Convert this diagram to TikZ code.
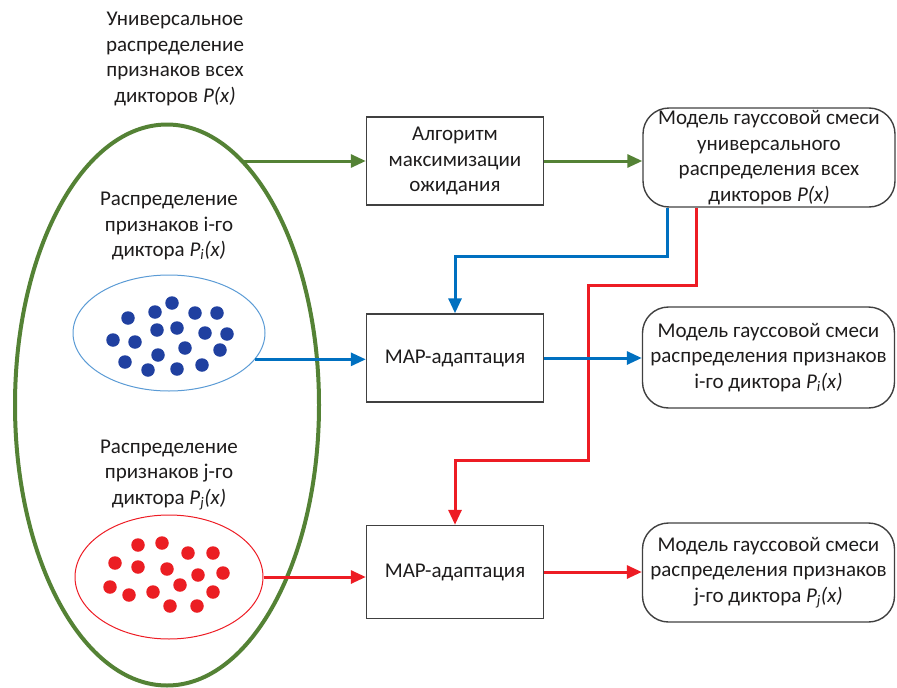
\documentclass[tikz,border=0pt]{standalone}
\usepackage{fontspec}
\setmainfont{Carlito}
\usetikzlibrary{shapes.geometric,arrows.meta,calc}
\definecolor{txt}{RGB}{30,28,28}
\definecolor{frame}{RGB}{64,64,64}
\definecolor{ggreen}{RGB}{84,130,53}
\definecolor{lblue}{RGB}{0,112,192}
\definecolor{lred}{RGB}{237,28,36}
\definecolor{dotblue}{RGB}{32,64,160}
\definecolor{dotred}{RGB}{235,30,35}
\definecolor{rimblue}{RGB}{91,155,213}
\tikzset{
  label text/.style={align=center, text=txt, inner sep=0pt},
  procbox/.style={draw=frame, line width=1.4pt, minimum width=177pt, minimum height=88pt,
    align=center, text=txt, inner sep=2pt},
  modelbox/.style={draw=frame, line width=1.4pt, rounded corners=26pt, minimum width=252pt,
    minimum height=99pt, align=center, text=txt, inner sep=1pt},
  flow/.style={line width=3pt, -{Triangle[length=15pt,width=13pt]}},
  dot/.style={circle, fill=#1, inner sep=0pt, minimum size=13.5pt},
}
\newcommand{\PofI}{\textit{P\textsubscript{i}(x)}}
\newcommand{\PofJ}{\textit{P\textsubscript{j}(x)}}
\begin{document}
\begin{tikzpicture}[x=1pt, y=-1pt, font=\fontsize{21}{25.5}\selectfont]
\useasboundingbox (0,0) rectangle (897,688);

% outer population of all speakers
\node[ellipse, draw=ggreen, line width=4pt, minimum width=304pt, minimum height=561pt, inner sep=0pt] (all) at (167,405) {};

% labels
\node[label text] (allLbl) at (175,59) {Универсальное\\распределение\\признаков всех\\дикторов \textit{P(x)}};
\node[label text] (iLbl) at (169,226) {Распределение\\признаков i-го\\диктора \PofI};
\node[label text] (jLbl) at (169,475) {Распределение\\признаков j-го\\диктора \PofJ};

% speaker i feature cloud
\node[ellipse, draw=rimblue, line width=1pt, minimum width=192pt, minimum height=116pt, inner sep=0pt] (bi) at (169,333) {};
\foreach \p [count=\k] in {(128,318),(155,312),(172,303),(195,313),(217,313),
  (113,340),(135,342),(157,330),(177,328),(205,333),(227,334),
  (125,362),(158,355),(185,348),(220,350),
  (148,370),(177,369),(202,365)}
  \node[dot=dotblue] (bd\k) at \p {};

% speaker j feature cloud
\node[ellipse, draw=lred, line width=1pt, minimum width=188pt, minimum height=124pt, inner sep=0pt] (rj) at (169,577) {};
\foreach \p [count=\k] in {(138,545),(162,543),(188,553),(213,553),
  (115,563),(138,567),(167,569),(198,575),(223,573),
  (110,587),(129,595),(153,592),(180,585),(213,592),
  (170,606),(197,606)}
  \node[dot=dotred] (rd\k) at \p {};

% processing blocks
\node[procbox] (em) at (455,161) {Алгоритм\\максимизации\\ожидания};
\node[procbox] (map1) at (455,358) {MAP-адаптация};
\node[procbox, minimum height=93pt] (map2) at (455,572) {MAP-адаптация};

% resulting models
\node[modelbox] (ubm) at (769,157.5) {Модель гауссовой смеси\\универсального\\распределения всех\\дикторов \textit{P(x)}};
\node[modelbox, minimum height=101pt] (mi) at (768.5,357.5) {Модель гауссовой смеси\\распределения признаков\\i-го диктора \PofI};
\node[modelbox] (mj) at (768.5,572.5) {Модель гауссовой смеси\\распределения признаков\\j-го диктора \PofJ};

% training of the universal model
\draw[flow, ggreen] (all.73 |- em.west) -- (em.west);
\draw[flow, ggreen] (em.east) -- (em.east -| ubm.west);

% adaptation for speaker j
\coordinate (rbend) at (588,285);
\draw[flow, lred] ([xshift=54pt]ubm.south west) |- (rbend) |- ($(map2.north)+(0,-64)$) -- (map2.north);
\draw[flow, lred] (rj.east) -- (rj.east -| map2.west);
\draw[flow, lred] (map2.east) -- (map2.east -| mj.west);

% adaptation for speaker i
\draw[flow, lblue] ([xshift=25pt]ubm.south west) |- ($(map1.north)+(0,-57)$) -- (map1.north);
\draw[flow, lblue] (bi.-17) -- (bi.-17 -| map1.west);
\draw[flow, lblue] (map1.east) -- (map1.east -| mi.west);
\end{tikzpicture}
\end{document}
